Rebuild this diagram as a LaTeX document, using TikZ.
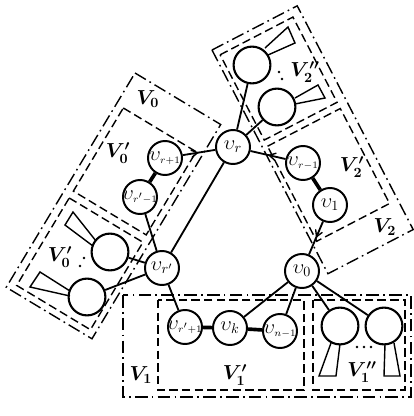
\documentclass[tikz,border=0pt]{standalone}
\usepackage{xcolor}
\usepackage{tikz}
\usetikzlibrary{arrows, decorations.markings}

\newcommand{\vlab}[1]{$\upsilon_{\scriptscriptstyle #1}$}

\begin{document}
\begin{tikzpicture}[
    x=0.025cm, y=-0.025cm,
    >=angle 60,
    vert/.style={circle, draw, line width=1.4pt, minimum size=0.85cm, inner sep=-6pt, font=\Large},
    leaf/.style={circle, draw, line width=1.5pt, minimum size=0.92cm, inner sep=0pt},
    tie/.style={line width=1.3pt},
    link/.style={line width=2.6pt},
    midarrow/.style={tie, postaction={decorate},
        decoration={markings, mark=at position 0.5 with {\arrow[line width=1pt]{>}}}},
    grpout/.style={line width=1pt, dash pattern=on 9pt off 3pt on 1.2pt off 3pt},
    grpin/.style={line width=1pt, dash pattern=on 6pt off 3pt},
    subtree/.style={line width=1pt},
    lbl/.style={font=\Large\boldmath}
]
\useasboundingbox (0,0) rectangle (414,416);

% cycle vertices
\node[vert] (vr) at (233,147) {$\upsilon_r$};
\node[vert] (vrm) at (303,163) {\vlab{r-1}};
\node[vert] (vone) at (330,205) {$\upsilon_1$};
\node[vert] (vzero) at (302,271) {$\upsilon_0$};
\node[vert] (vnm) at (280,331) {\vlab{n-1}};
\node[vert] (vk) at (230,328) {$\upsilon_k$};
\node[vert] (vrpp) at (185,327) {\vlab{r'+1}};
\node[vert] (vrp) at (162,268) {$\upsilon_{r'}$};
\node[vert] (vrpm) at (140,197) {\vlab{r'-1}};
\node[vert] (vrpl) at (165,158) {\vlab{r+1}};

% roots of the hanging subtrees
\node[leaf] (la) at (252,65) {};
\node[leaf] (lb) at (277,107) {};
\node[leaf] (le) at (110,252) {};
\node[leaf] (lf) at (87,297) {};
\node[leaf] (lc) at (340,326) {};
\node[leaf] (ld) at (384,326) {};

% edges
\draw[tie] (vr) -- (vrp);
\draw[tie] (vr) -- (la);
\draw[tie] (vr) -- (lb);
\draw[midarrow] (vrm) -- (vr);
\draw[midarrow] (vrpl) -- (vr);
\draw[midarrow] (vone) -- (vzero);
\draw[link] (vrm) -- (vone);
\draw[link] (vrpm) -- (vrpl);
\draw[link] (vrpp) -- (vk);
\draw[link] (vk) -- (vnm);
\draw[tie] (vrp) -- (vrpm);
\draw[tie] (vrp) -- (vrpp);
\draw[tie] (vrp) -- (le);
\draw[tie] (vrp) -- (lf);
\draw[tie] (vzero) -- (vk);
\draw[tie] (vzero) -- (vnm);
\draw[tie] (vzero) -- (lc);
\draw[tie] (vzero) -- (ld);

% subtrees
\draw[subtree] (265,48) -- (288,27) -- (295,43) -- (268,55);
\draw[subtree] (295,98) -- (318,85) -- (325,98) -- (295,104);
\draw[subtree] (96,241) -- (73,212) -- (65,225) -- (93,246);
\draw[subtree] (70,291) -- (40,272) -- (30,287) -- (70,296);
\draw[subtree] (331,343) -- (319,376) -- (336,376) -- (340,344);
\draw[subtree] (385,344) -- (384,376) -- (400,376) -- (394,343);
\foreach \p in {(279,72),(282,79),(80,266),(84,258),(357,347),(364,347),(371,347)}
  \fill \p circle (0.9pt);

% V_0 group
\begin{scope}[shift={(135,73)}, rotate=-31]
  \draw[grpout] (0,0) -- (100,0) -- (100,250) -- (0,250) -- cycle;
  \draw[grpin] (8,36) -- (93,36) -- (93,133) -- (8,133) -- cycle;
  \draw[grpin] (8,141) -- (94,141) -- (94,243) -- (8,243) -- cycle;
\end{scope}

% V_2 group
\begin{scope}[shift={(212,50)}, rotate=27.4]
  \draw[grpout] (0,0) -- (96,0) -- (96,252) -- (0,252) -- cycle;
  \draw[grpin] (5,8) -- (87,8) -- (87,104) -- (5,104) -- cycle;
  \draw[grpin] (5,111) -- (87,111) -- (87,218) -- (5,218) -- cycle;
\end{scope}

% V_1 group
\draw[grpout] (123,295) rectangle (411,397);
\draw[grpin] (158,300) rectangle (304,390);
\draw[grpin] (313,300) rectangle (405,390);

% group labels
\node[lbl] (tvo) at (148,99) {$V_0$};
\node[lbl] (tvoa) at (118,153) {$V_0'$};
\node[lbl] (tvob) at (60,257) {$V_0'$};
\node[lbl] (tvtb) at (305,72) {$V_2''$};
\node[lbl] (tvta) at (352,167) {$V_2'$};
\node[lbl] (tvt) at (385,227) {$V_2$};
\node[lbl] (tvi) at (141,375) {$V_1$};
\node[lbl] (tvia) at (235,375) {$V_1'$};
\node[lbl] (tvib) at (362,372) {$V_1''$};

\end{tikzpicture}
\end{document}
